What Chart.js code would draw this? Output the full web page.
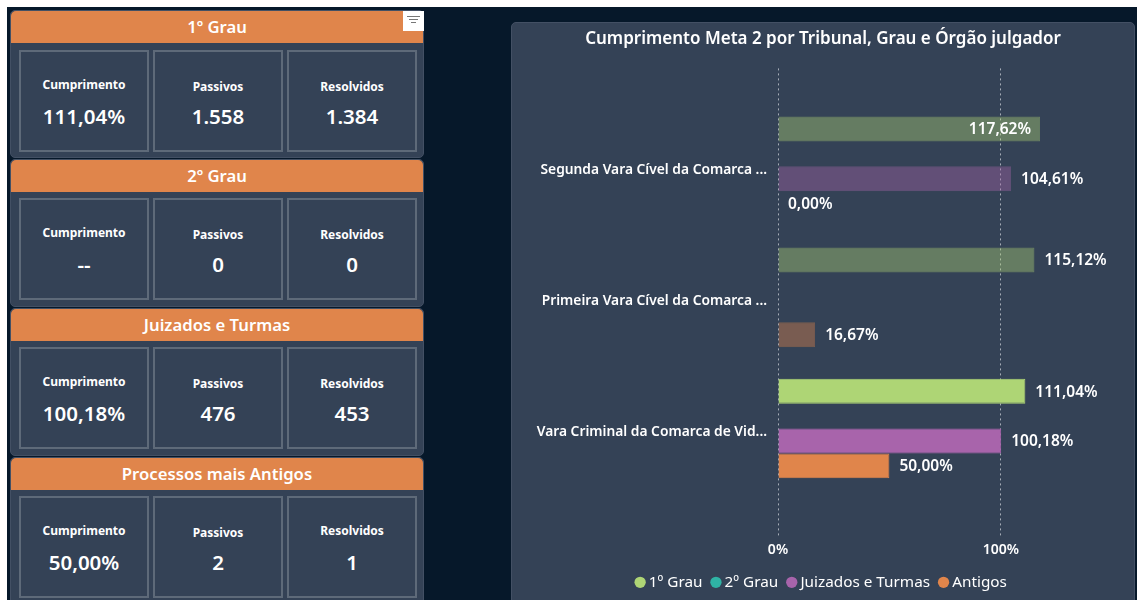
<!DOCTYPE html>
<html lang="pt-BR">
<head>
<meta charset="utf-8">
<title>Cumprimento Meta 2</title>
<script src="https://cdn.jsdelivr.net/npm/chart.js@4"></script>
<style>
  html, body { margin: 0; padding: 0; background: #fff; }
  body { width: 1137px; height: 600px; overflow: hidden; position: relative; font-family: "Noto Sans", sans-serif; color: #fff; }
  #fundo { position: absolute; left: 7px; top: 7px; right: 0; bottom: 0; background: #06182a; overflow: hidden; }
  .painel { position: absolute; left: 10px; width: 412px; height: 146px; background: #344256; border: 1px solid #435064; border-radius: 5px; }
  .cabecalho { position: absolute; left: 0; top: 0; right: 0; height: 32px; background: #e0854b; border-radius: 5px 5px 0 0; text-align: center; font-size: 16.7px; font-weight: 600; line-height: 31px; }
  .caixa { position: absolute; top: 38.5px; width: 126px; height: 98px; border: 2px solid #5e6a79; text-align: center; }
  .caixa b { position: absolute; left: 0; right: 0; font-size: 12px; font-weight: 700; line-height: 16px; }
  .caixa span { position: absolute; left: 0; right: 0; top: 50px; font-size: 20.5px; font-weight: 600; line-height: 28px; }
  #filtro { position: absolute; left: 403px; top: 11px; width: 21px; height: 20px; background: #fff; }
  #filtro i { position: absolute; height: 1px; background: #777; }
  #painelGrafico { position: absolute; left: 511px; top: 22px; width: 624px; height: 590px; background: #344256; border: 1px solid #435064; border-radius: 5px; box-sizing: border-box; }
  #grafico { position: absolute; left: 0; top: 0; }
</style>
</head>
<body>
<div id="fundo"></div>
<div id="paineis"></div>
<div id="filtro"><i style="left:4px;top:5px;width:13px"></i><i style="left:6px;top:8px;width:9px"></i><i style="left:8px;top:11px;width:5px"></i></div>
<div id="painelGrafico"><canvas id="grafico"></canvas></div>
<script>
// cartoes da esquerda
const titulosCartao = ["1º Grau", "2º Grau", "Juizados e Turmas", "Processos mais Antigos"];
const topoCartao = [10, 158.5, 307.5, 456.5];
const cumprimento = ["111,04%", "--", "100,18%", "50,00%"];
const passivos = ["1.558", "0", "476", "2"];
const resolvidos = ["1.384", "0", "453", "1"];

// grafico
const categorias = [
  "Segunda Vara Cível da Comarca ...",
  "Primeira Vara Cível da Comarca ...",
  "Vara Criminal da Comarca de Vid..."
];
const grau1 = [117.62, 115.12, 111.04];
const grau2 = [null, null, null];
const juizados = [104.61, null, 100.18];
const antigos = [0, 16.67, 50];
const categoriaAtiva = 2;
const ticksX = [0, 100];

const corGrau1 = "174, 213, 117";
const corGrau2 = "47, 179, 165";
const corJuizados = "168, 100, 171";
const corAntigos = "224, 133, 75";

function montarCartoes() {
  const destino = document.getElementById("paineis");
  let html = "";
  titulosCartao.forEach((titulo, i) => {
    const topoResolvidos = i === 3 ? 25 : 27;
    html += `<div class="painel" style="top:${topoCartao[i]}px">
      <div class="cabecalho">${titulo}</div>
      <div class="caixa" style="left:8px"><b style="top:25px">Cumprimento</b><span>${cumprimento[i]}</span></div>
      <div class="caixa" style="left:142px"><b style="top:27px">Passivos</b><span>${passivos[i]}</span></div>
      <div class="caixa" style="left:276px"><b style="top:${topoResolvidos}px">Resolvidos</b><span>${resolvidos[i]}</span></div>
    </div>`;
  });
  destino.innerHTML = html;
}

function criarDataset(label, valores, cor) {
  const fundo = categorias.map((c, i) => `rgba(${cor}, ${i === categoriaAtiva ? 1 : 0.4})`);
  return {
    label: label,
    data: valores.map((v, i) => ({ x: v, y: i })),
    backgroundColor: fundo,
    borderColor: fundo,
    borderWidth: 1,
    categoryPercentage: 0.76,
    barPercentage: 1,
    corLegenda: `rgb(${cor})`
  };
}

function formatarValor(v) {
  return v.toFixed(2).replace(".", ",") + "%";
}

const rotulosBarras = {
  id: "rotulosBarras",
  afterDatasetsDraw(chart) {
    const ctx = chart.ctx;
    ctx.save();
    ctx.fillStyle = "#fff";
    ctx.font = "600 15.5px 'Noto Sans'";
    ctx.textBaseline = "middle";
    chart.data.datasets.forEach((ds, d) => {
      chart.getDatasetMeta(d).data.forEach((barra, i) => {
        const v = ds.data[i].x;
        if (v === null) return;
        // o maior valor nao cabe fora da barra
        const dentro = v > 116;
        ctx.textAlign = dentro ? "right" : "left";
        ctx.fillText(formatarValor(v), barra.x + (dentro ? -9 : 10), barra.y + 1);
      });
    });
    ctx.restore();
  }
};

montarCartoes();

const canvas = document.getElementById("grafico");
canvas.width = 622;
canvas.height = 577;
canvas.style.width = "622px";
canvas.style.height = "577px";

new Chart(canvas.getContext("2d"), {
  type: "bar",
  data: {
    datasets: [
      criarDataset("1º Grau", grau1, corGrau1),
      criarDataset("2º Grau", grau2, corGrau2),
      criarDataset("Juizados e Turmas", juizados, corJuizados),
      criarDataset("Antigos", antigos, corAntigos)
    ]
  },
  options: {
    indexAxis: "y",
    responsive: false,
    animation: false,
    scales: {
      x: {
        type: "linear",
        min: 0,
        max: 159.8,
        afterBuildTicks(axis) { axis.ticks = ticksX.map(v => ({ value: v })); },
        grid: { color: "rgba(215, 220, 225, 0.7)", drawTicks: false },
        border: { display: false, dash: [2, 3] },
        ticks: {
          color: "#fff",
          padding: 3.5,
          font: { family: "Noto Sans", size: 14, weight: "600" },
          callback: v => v + "%"
        }
      },
      y: {
        type: "linear",
        reverse: true,
        offset: false,
        min: -0.747,
        max: 2.838,
        afterBuildTicks(axis) { axis.ticks = categorias.map((c, i) => ({ value: i })); },
        afterFit(axis) { axis.width = 266; },
        grid: { display: false, drawTicks: false },
        border: { display: false },
        ticks: {
          color: "#fff",
          padding: 11,
          labelOffset: 4,
          font: { family: "Noto Sans", size: 13.8, weight: "600" },
          callback: v => categorias[v]
        }
      }
    },
    plugins: {
      title: {
        display: true,
        text: "Cumprimento Meta 2 por Tribunal, Grau e Órgão julgador",
        color: "#fff",
        font: { family: "Noto Sans", size: 17, weight: "600" },
        padding: { top: 6, bottom: 19 }
      },
      legend: {
        position: "bottom",
        labels: {
          usePointStyle: true,
          pointStyle: "circle",
          boxWidth: 2,
          boxHeight: 8,
          padding: 12.5,
          color: "#fff",
          font: { family: "Noto Sans", size: 15.3 },
          generateLabels(chart) {
            return chart.data.datasets.map((ds, i) => ({
              text: ds.label,
              fillStyle: ds.corLegenda,
              strokeStyle: ds.corLegenda,
              fontColor: "#fff",
              pointStyle: "circle",
              lineWidth: 0,
              datasetIndex: i
            }));
          }
        }
      },
      tooltip: { enabled: false }
    }
  },
  plugins: [rotulosBarras]
});
</script>
</body>
</html>
